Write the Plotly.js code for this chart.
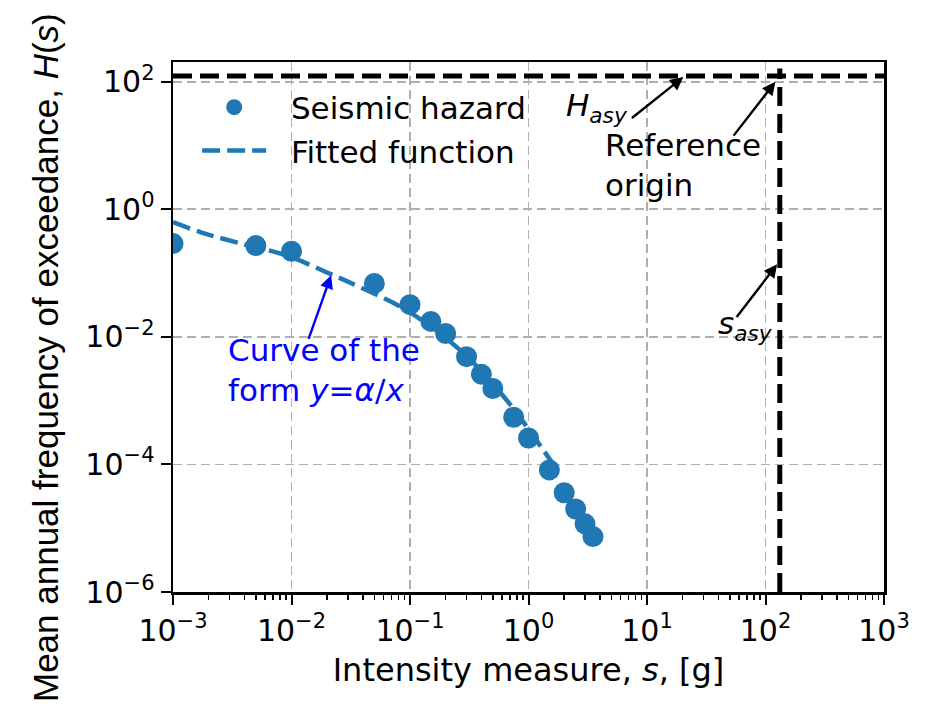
<!DOCTYPE html>
<html>
<head>
<meta charset="utf-8">
<script src="https://cdn.plot.ly/plotly-3.0.1.min.js"></script>
<style>
  html, body { margin: 0; padding: 0; background: #ffffff; }
  #chart { width: 928px; height: 710px; }
</style>
</head>
<body>
<div id="chart"></div>
<script>
// Seismic hazard curve: mean annual frequency of exceedance vs intensity measure
const hazardS = [0.001, 0.005, 0.01, 0.05, 0.1, 0.15, 0.2, 0.3, 0.4, 0.5, 0.75, 1.0, 1.5, 2.0, 2.5, 3.0, 3.5];
const hazardH = [0.29, 0.27, 0.22, 0.069, 0.032, 0.0175, 0.0113, 0.0049, 0.0026, 0.00155, 0.00055, 0.00026, 8.2e-5, 3.6e-5, 2.0e-5, 1.17e-5, 7.4e-6];

// Fitted hyperbolic function (in log-log space)
const fitS = [0.001, 0.0017, 0.0035, 0.009, 0.021, 0.038, 0.094, 0.265, 0.64, 1.34, 1.58];
const fitH = [0.63, 0.44, 0.30, 0.19, 0.098, 0.060, 0.026, 0.0062, 0.00107, 1.66e-4, 1.07e-4];

// Asymptotes of the fitted function (they meet at the reference origin)
const hAsy = 123;
const sAsy = 132;
const hAsyLineS = [0.001, 1000];
const sAsyLineH = [1e-6, 162];

// Axis ticks
const xTickVals = [1e-3, 1e-2, 1e-1, 1, 10, 100, 1000];
const xTickText = ['10<sup>\u22123</sup>', '10<sup>\u22122</sup>', '10<sup>\u22121</sup>', '10<sup>0</sup>', '10<sup>1</sup>', '10<sup>2</sup>', '10<sup>3</sup>'];
const yTickVals = [1e-6, 1e-4, 1e-2, 1, 100];
const yTickText = ['10<sup>\u22126</sup>', '10<sup>\u22124</sup>', '10<sup>\u22122</sup>', '10<sup>0</sup>', '10<sup>2</sup>'];

const BLUE = '#1f77b4';
const FONT = 'DejaVu Sans, Liberation Sans, sans-serif';
const L = Math.log10;
const PAD = '\u00a0\u00a0';

const traces = [
  {
    x: hazardS, y: hazardH, type: 'scatter', mode: 'markers',
    name: PAD + 'Seismic hazard',
    marker: { color: BLUE, size: 21, line: { width: 0 } }
  },
  {
    x: fitS, y: fitH, type: 'scatter', mode: 'lines',
    name: PAD + 'Fitted function',
    line: { color: BLUE, width: 4.5, dash: '18px,7px', shape: 'spline', smoothing: 1 }
  },
  {
    x: hAsyLineS, y: [hAsy, hAsy], type: 'scatter', mode: 'lines',
    showlegend: false, hoverinfo: 'skip',
    line: { color: '#000000', width: 5, dash: '19px,8px' }
  },
  {
    x: [sAsy, sAsy], y: sAsyLineH, type: 'scatter', mode: 'lines',
    showlegend: false, hoverinfo: 'skip',
    line: { color: '#000000', width: 5, dash: '19px,8px' }
  }
];

const textFont = { family: FONT, size: 31, color: '#000000' };
const arrowBase = { text: '', showarrow: true, arrowhead: 2, arrowsize: 1.1, arrowwidth: 2.4,
                    arrowcolor: '#000000', standoff: 0, startstandoff: 0, axref: 'x', ayref: 'y' };

const layout = {
  width: 928, height: 710,
  margin: { l: 173, r: 44, t: 62, b: 118, pad: 0 },
  paper_bgcolor: '#ffffff', plot_bgcolor: '#ffffff',
  showlegend: true,
  hovermode: false,
  legend: {
    x: 0.034, y: 0.965, xanchor: 'left', yanchor: 'top',
    bgcolor: 'rgba(0,0,0,0)', borderwidth: 0,
    font: { family: FONT, size: 31, color: '#000000' },
    itemwidth: 64, tracegroupgap: 0
  },
  xaxis: {
    type: 'log', range: [-3, 3],
    tickmode: 'array', tickvals: xTickVals, ticktext: xTickText,
    ticks: 'outside', ticklen: 10, tickwidth: 2, tickcolor: '#000000',
    tickfont: { family: FONT, size: 30, color: '#000000' },
    showline: true, linecolor: '#000000', linewidth: 2.5, mirror: true,
    showgrid: true, gridcolor: '#b0b0b0', gridwidth: 1.8, griddash: '9px,5px',
    zeroline: false,
    minor: { ticks: 'outside', ticklen: 5, tickwidth: 1.5, tickcolor: '#000000', dtick: 'D1', showgrid: false },
    title: { text: 'Intensity measure, <i>s</i>, [g]', font: { family: FONT, size: 32, color: '#000000' }, standoff: 12 }
  },
  yaxis: {
    type: 'log', range: [-6, 2.31],
    tickmode: 'array', tickvals: yTickVals, ticktext: yTickText,
    ticks: 'outside', ticklen: 10, tickwidth: 2, tickcolor: '#000000',
    tickfont: { family: FONT, size: 30, color: '#000000' },
    showline: true, linecolor: '#000000', linewidth: 2.5, mirror: true,
    showgrid: true, gridcolor: '#b0b0b0', gridwidth: 1.8, griddash: '9px,5px',
    zeroline: false
  },
  annotations: [
    // y-axis label
    { xref: 'paper', yref: 'paper', x: -0.18, y: 0.4415, xanchor: 'center', yanchor: 'middle',
      textangle: -90, showarrow: false,
      text: 'Mean annual frequency of exceedance, <i>H</i>(<i>s</i>)',
      font: { family: 'Liberation Sans, Arial, sans-serif', size: 35, color: '#000000' } },

    // H_asy
    { xref: 'x', yref: 'y', x: 0.575, y: 1.603, showarrow: false,
      text: '<i>H<sub>asy</sub></i>', font: textFont },
    Object.assign({}, arrowBase, { xref: 'x', yref: 'y', x: 1.307, y: 2.074, ax: 0.86, ay: 1.414 }),

    // Reference origin
    { xref: 'x', yref: 'y', x: 0.632, y: 0.692, xanchor: 'left', yanchor: 'middle', align: 'left',
      showarrow: false, text: 'Reference<br>origin', font: textFont },
    Object.assign({}, arrowBase, { xref: 'x', yref: 'y', x: L(sAsy) - 0.037, y: L(hAsy) - 0.09, ax: 1.721, ay: 1.132 }),

    // s_asy
    { xref: 'x', yref: 'y', x: 1.831, y: -1.82, showarrow: false,
      text: '<i>s<sub>asy</sub></i>', font: textFont },
    Object.assign({}, arrowBase, { xref: 'x', yref: 'y', x: L(sAsy) - 0.022, y: -0.862, ax: 1.747, ay: -1.711 }),

    // Fitted curve note
    { xref: 'x', yref: 'y', x: -2.55, y: -2.526, xanchor: 'left', yanchor: 'middle', align: 'left',
      showarrow: false, text: 'Curve of the<br>form <i>y</i>=<i>\u03b1</i>/<i>x</i>',
      font: { family: FONT, size: 31, color: '#0000ff' } },
    Object.assign({}, arrowBase, { xref: 'x', yref: 'y', x: -1.666, y: -1.035, ax: -1.86, ay: -2.055,
      arrowcolor: '#0000ff' })
  ]
};

Plotly.newPlot('chart', traces, layout, { displayModeBar: false, staticPlot: true });
</script>
</body>
</html>
